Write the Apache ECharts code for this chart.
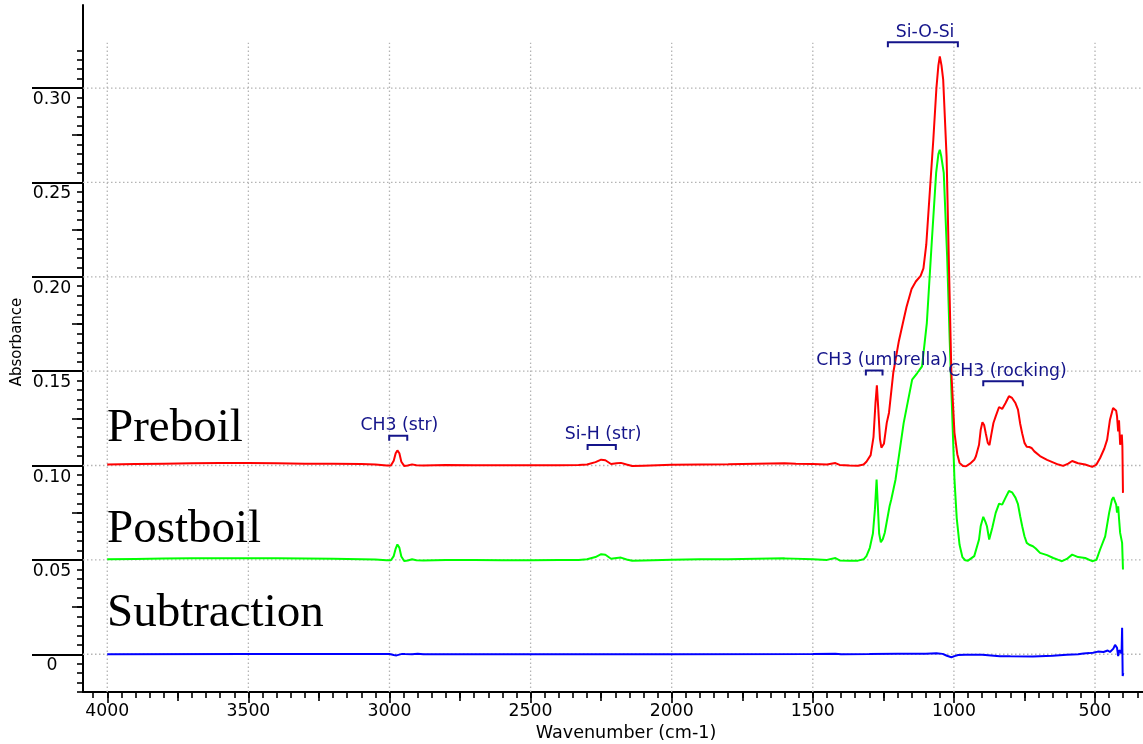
<!DOCTYPE html>
<html>
<head>
<meta charset="utf-8">
<script src="https://cdn.jsdelivr.net/npm/echarts@6.0.0/dist/echarts.min.js"></script>
<style>
  html, body { margin: 0; padding: 0; background: #fff; }
  #chart { width: 1143px; height: 744px; }
</style>
</head>
<body>
<div id="chart"></div>
<script>
// ---------- DATA ----------
const xTickValues = [4000, 3500, 3000, 2500, 2000, 1500, 1000, 500];
const xTickLabels = ['4000', '3500', '3000', '2500', '2000', '1500', '1000', '500'];
const yTickValues = [0, 0.05, 0.10, 0.15, 0.20, 0.25, 0.30];
const yTickLabels = ['0', '0.05', '0.10', '0.15', '0.20', '0.25', '0.30'];

const seriesNames = ['Preboil', 'Postboil', 'Subtraction'];

const preboil = [
  [4000,0.1005],[3900,0.1008],[3800,0.1010],[3700,0.1012],[3600,0.1013],[3500,0.1013],[3400,0.1012],[3300,0.1010],
  [3200,0.1010],[3100,0.1008],[3050,0.1005],[3010,0.1000],[2995,0.1000],[2985,0.1025],[2978,0.1065],[2972,0.1080],
  [2965,0.1065],[2958,0.1020],[2948,0.0998],[2935,0.1000],[2920,0.1006],[2905,0.1001],[2880,0.1000],[2800,0.1003],
  [2700,0.1002],[2600,0.1001],[2500,0.1001],[2400,0.1001],[2330,0.1003],[2300,0.1005],[2270,0.1018],[2250,0.1031],
  [2235,0.1028],[2215,0.1008],[2195,0.1012],[2180,0.1014],[2160,0.1005],[2140,0.0997],[2100,0.0999],[2000,0.1004],
  [1900,0.1006],[1800,0.1007],[1700,0.1010],[1600,0.1012],[1560,0.1010],[1500,0.1008],[1450,0.1005],[1420,0.1013],
  [1405,0.1003],[1370,0.1000],[1340,0.0999],[1320,0.1005],[1310,0.1020],[1295,0.1055],[1285,0.1150],[1278,0.1330],
  [1273,0.1425],[1268,0.1300],[1262,0.1140],[1257,0.1095],[1248,0.1115],[1238,0.1226],[1230,0.1280],[1215,0.1490],
  [1195,0.1660],[1180,0.1760],[1168,0.1840],[1150,0.1935],[1135,0.1975],[1118,0.2005],[1108,0.2045],[1098,0.2170],
  [1085,0.2460],[1073,0.2726],[1062,0.3000],[1055,0.3120],[1050,0.3167],[1044,0.3120],[1038,0.3044],[1026,0.2638],
  [1017,0.2020],[1009,0.1490],[998,0.1173],[988,0.1060],[980,0.1014],[968,0.0998],[957,0.0996],[943,0.1010],
  [928,0.1030],[922,0.1049],[911,0.1110],[905,0.1190],[899,0.1229],[893,0.1215],[887,0.1170],[880,0.1120],
  [874,0.1108],[868,0.1160],[860,0.1225],[852,0.1260],[840,0.1310],[829,0.1300],[817,0.1331],[805,0.1367],
  [794,0.1358],[782,0.1331],[773,0.1296],[765,0.1220],[758,0.1170],[750,0.1120],[742,0.1100],[733,0.1098],
  [725,0.1093],[715,0.1075],[695,0.1050],[670,0.1030],[649,0.1017],[630,0.1005],[613,0.0998],[595,0.1010],
  [581,0.1024],[560,0.1012],[535,0.1005],[510,0.0993],[495,0.1005],[482,0.1040],[467,0.1090],[457,0.1137],
  [447,0.1243],[436,0.1305],[430,0.1314],[425,0.1290],[422,0.1260],[418,0.1180],[415,0.1240],[411,0.1110],
  [408,0.1130],[405,0.1164],[403,0.1100],[401,0.0855]
];

const postboil = [
  [4000,0.0503],[3900,0.0505],[3800,0.0507],[3700,0.0508],[3600,0.0509],[3500,0.0509],[3400,0.0508],[3300,0.0507],
  [3200,0.0506],[3100,0.0504],[3050,0.0502],[3010,0.0498],[2995,0.0498],[2985,0.0520],[2978,0.0560],[2972,0.0582],
  [2965,0.0565],[2958,0.0518],[2948,0.0494],[2935,0.0497],[2920,0.0503],[2905,0.0498],[2880,0.0497],[2800,0.0500],
  [2700,0.0499],[2600,0.0498],[2500,0.0498],[2400,0.0499],[2330,0.0500],[2300,0.0503],[2270,0.0515],[2250,0.0530],
  [2235,0.0527],[2215,0.0506],[2195,0.0510],[2180,0.0512],[2160,0.0502],[2140,0.0495],[2100,0.0497],[2000,0.0501],
  [1900,0.0503],[1800,0.0504],[1700,0.0506],[1600,0.0508],[1500,0.0504],[1450,0.0500],[1420,0.0510],[1405,0.0497],
  [1370,0.0495],[1340,0.0496],[1320,0.0503],[1310,0.0520],[1298,0.0564],[1287,0.0640],[1280,0.0766],[1274,0.0925],
  [1270,0.0800],[1265,0.0640],[1259,0.0593],[1252,0.0610],[1245,0.0644],[1228,0.0784],[1222,0.0820],[1207,0.0925],
  [1178,0.1226],[1148,0.1455],[1130,0.1490],[1113,0.1525],[1096,0.1755],[1078,0.2196],[1063,0.2550],[1055,0.2650],
  [1050,0.2673],[1045,0.2640],[1036,0.2550],[1024,0.2108],[1015,0.1667],[1005,0.1226],[998,0.0925],[990,0.0720],
  [980,0.0580],[970,0.0515],[960,0.0498],[950,0.0496],[943,0.0502],[928,0.0520],[922,0.0528],[911,0.0608],
  [905,0.0680],[896,0.0728],[888,0.0700],[883,0.0678],[875,0.0608],[864,0.0670],[852,0.0749],[840,0.0798],
  [829,0.0793],[817,0.0830],[805,0.0865],[794,0.0858],[782,0.0830],[773,0.0795],[765,0.0730],[758,0.0678],
  [750,0.0625],[742,0.0590],[733,0.0580],[720,0.0572],[710,0.0560],[695,0.0537],[670,0.0525],[648,0.0510],
  [630,0.0500],[617,0.0493],[600,0.0505],[581,0.0528],[560,0.0515],[535,0.0510],[510,0.0493],[495,0.0500],
  [482,0.0555],[464,0.0625],[450,0.0749],[440,0.0820],[435,0.0832],[425,0.0793],[422,0.0750],[418,0.0784],
  [415,0.0720],[411,0.0643],[404,0.0590],[401,0.0449]
];

const subtraction = [
  [4000,0.0000],[3500,0.0001],[3000,0.0001],[2985,-0.0004],[2975,-0.0006],[2965,-0.0002],[2955,0.0002],[2945,0.0001],
  [2920,0.0000],[2900,0.0003],[2880,0.0000],[2500,0.0000],[2000,0.0000],[1500,0.0001],[1420,0.0003],[1400,0.0000],
  [1300,0.0001],[1200,0.0003],[1100,0.0003],[1062,0.0005],[1040,0.0002],[1025,-0.0008],[1009,-0.0016],[998,-0.0010],
  [985,-0.0004],[960,-0.0002],[900,-0.0003],[837,-0.0010],[800,-0.0011],[720,-0.0012],[650,-0.0008],[600,-0.0003],
  [560,0.0000],[541,0.0004],[520,0.0006],[507,0.0008],[490,0.0014],[470,0.0012],[455,0.0020],[447,0.0012],
  [435,0.0030],[429,0.0050],[425,0.0042],[422,0.0034],[418,-0.0010],[414,0.0022],[411,0.0025],[406,0.0005],
  [404,0.0140],[402,-0.0115],[400,-0.0100]
];

// band annotations: label text, bracket start/end wavenumber, bracket absorbance, label centre wavenumber
const annTexts = ['Si-O-Si', 'CH3 (umbrella)', 'CH3 (rocking)', 'CH3 (str)', 'Si-H (str)'];
const annFrom  = [1234, 1312, 896, 3001, 2298];
const annTo    = [986, 1253, 756, 2937, 2198];
const annLevel = [0.3242, 0.1503, 0.1446, 0.1158, 0.1109];
const annTextAt = [1102, 1255, 810, 2965, 2243];

// ---------- AXIS / TICK SETUP ----------
const X_MIN = 330, X_MAX = 4086, Y_MIN = -0.02, Y_MAX = 0.344, V_GRID_TOP = 0.324;
const r = v => Math.round(v * 10000) / 10000;
const xMidTicks = [], xMinorTicks = [];
for (let w = 350; w <= 4050; w += 50) xMinorTicks.push(w);
for (let w = 750; w <= 3750; w += 500) xMidTicks.push(w);
const yMidTicks = [], yMinorTicks = [];
for (let i = -4; i <= 64; i++) yMinorTicks.push(r(i * 0.005));
for (let i = 0; i < 6; i++) yMidTicks.push(r(0.025 + i * 0.05));

const NAVY = '#14148a';
const AX_FONT = '"DejaVu Sans", sans-serif';
const AX_SIZE = 17.3;

function lookupLabel(vals, labels, prefix) {
  return function (v) {
    const i = vals.findIndex(t => Math.abs(t - v) < 1e-6);
    return i >= 0 ? (prefix + labels[i]) : '';
  };
}

function xAxisDef(ticks, len, withLine, withLabel) {
  return {
    type: 'value', gridIndex: 0, inverse: true, min: X_MIN, max: X_MAX, position: 'bottom', offset: 0,
    axisLine: { show: withLine, onZero: false, lineStyle: { color: '#000', width: 2 } },
    axisTick: { show: true, customValues: ticks, length: len, lineStyle: { color: '#000', width: 1.6 } },
    axisLabel: withLabel ? {
      show: true, customValues: xTickValues, formatter: lookupLabel(xTickValues, xTickLabels, ''),
      margin: 11, color: '#000', fontFamily: AX_FONT, fontSize: AX_SIZE
    } : { show: false },
    splitLine: { show: false }
  };
}
function yAxisDef(ticks, len, withLine, withLabel) {
  return {
    type: 'value', gridIndex: 0, min: Y_MIN, max: Y_MAX, position: 'left', offset: 0,
    axisLine: { show: withLine, onZero: false, lineStyle: { color: '#000', width: 2 } },
    axisTick: { show: true, customValues: ticks, length: len, lineStyle: { color: '#000', width: withLabel ? 2 : 1.6 } },
    axisLabel: withLabel ? {
      show: true, customValues: yTickValues, formatter: lookupLabel(yTickValues, yTickLabels, '\n'),
      margin: 31, align: 'center', verticalAlign: 'middle', lineHeight: 23,
      color: '#000', fontFamily: AX_FONT, fontSize: AX_SIZE
    } : { show: false },
    splitLine: { show: false }
  };
}

const gridLineStyle = { stroke: '#b4b4b4', lineWidth: 1.3, lineDash: [1.5, 2.5] };

const chart = echarts.init(document.getElementById('chart'), null, { renderer: 'canvas' });
chart.setOption({
  animation: false,
  backgroundColor: '#fff',
  grid: { left: 83, right: 0, top: 5, bottom: 52, containLabel: false },
  xAxis: [
    xAxisDef(xTickValues, 11, true, true),
    xAxisDef(xMidTicks, 9, false, false),
    xAxisDef(xMinorTicks, 6, false, false)
  ],
  yAxis: [
    yAxisDef(yTickValues, 51, true, true),
    yAxisDef(yMidTicks, 11, false, false),
    yAxisDef(yMinorTicks, 6, false, false)
  ],
  series: [
    {
      type: 'custom', name: 'hgrid', z: 1, silent: true,
      data: yTickValues.map(v => [v]),
      renderItem: function (params, api) {
        const v = api.value(0);
        const a = api.coord([X_MAX, v]), b = api.coord([X_MIN, v]);
        return { type: 'line', shape: { x1: a[0], y1: a[1], x2: b[0], y2: b[1] }, style: gridLineStyle };
      }
    },
    {
      type: 'custom', name: 'vgrid', z: 1, silent: true,
      data: xTickValues.map(v => [v]),
      renderItem: function (params, api) {
        const v = api.value(0);
        const a = api.coord([v, Y_MIN]), b = api.coord([v, V_GRID_TOP]);
        return { type: 'line', shape: { x1: a[0], y1: a[1], x2: b[0], y2: b[1] }, style: gridLineStyle };
      }
    },
    {
      type: 'line', name: seriesNames[1], data: postboil, showSymbol: false, symbol: 'none', z: 3,
      lineStyle: { color: '#00ff00', width: 2 }, itemStyle: { color: '#00ff00' }
    },
    {
      type: 'line', name: seriesNames[0], data: preboil, showSymbol: false, symbol: 'none', z: 3,
      lineStyle: { color: '#ff0000', width: 2 }, itemStyle: { color: '#ff0000' }
    },
    {
      type: 'line', name: seriesNames[2], data: subtraction, showSymbol: false, symbol: 'none', z: 3,
      lineStyle: { color: '#0000ff', width: 2 }, itemStyle: { color: '#0000ff' }
    },
    {
      type: 'custom', name: 'annotations', z: 4, silent: true,
      data: annTexts.map((t, i) => [annFrom[i], annTo[i], annLevel[i], annTextAt[i]]),
      encode: { x: [0, 1, 3], y: 2 },
      renderItem: function (params, api) {
        const i = params.dataIndex;
        const p1 = api.coord([api.value(0), api.value(2)]);
        const p2 = api.coord([api.value(1), api.value(2)]);
        const pt = api.coord([api.value(3), api.value(2)]);
        return {
          type: 'group',
          children: [
            { type: 'polyline',
              shape: { points: [[p1[0], p1[1] + 5], [p1[0], p1[1]], [p2[0], p2[1]], [p2[0], p2[1] + 5]] },
              style: { stroke: NAVY, lineWidth: 2, fill: 'none' } },
            { type: 'text', x: pt[0], y: pt[1] - 10,
              style: { text: annTexts[i], font: '17.3px "DejaVu Sans"', fill: NAVY, align: 'center', verticalAlign: 'middle' } }
          ]
        };
      }
    }
  ],
  graphic: [
    { type: 'text', x: 107, y: 429, z: 10, style: { text: seriesNames[0], font: '47px "Liberation Serif"', fill: '#000', align: 'left', verticalAlign: 'middle' } },
    { type: 'text', x: 107, y: 530, z: 10, style: { text: seriesNames[1], font: '47px "Liberation Serif"', fill: '#000', align: 'left', verticalAlign: 'middle' } },
    { type: 'text', x: 107, y: 614, z: 10, style: { text: seriesNames[2], font: '47px "Liberation Serif"', fill: '#000', align: 'left', verticalAlign: 'middle' } },
    { type: 'text', x: 17, y: 342, rotation: Math.PI / 2, z: 10, style: { text: 'Absorbance', font: '15px "DejaVu Sans"', fill: '#000', align: 'center', verticalAlign: 'middle' } },
    { type: 'text', x: 626, y: 733, z: 10, style: { text: 'Wavenumber (cm-1)', font: '17.6px "DejaVu Sans"', fill: '#000', align: 'center', verticalAlign: 'middle' } }
  ]
});
</script>
</body>
</html>
